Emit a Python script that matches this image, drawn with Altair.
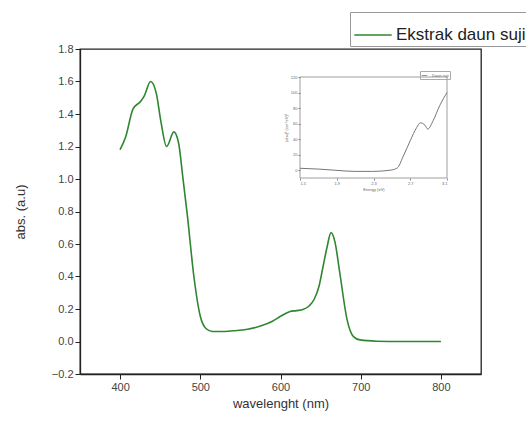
import altair as alt
import pandas as pd

# ---- main spectrum ----
wavelength = [400, 407, 416, 426, 430, 438, 445, 451, 458, 467, 473, 478, 484, 492, 500, 507,
              515, 530, 545, 559, 575, 590, 600, 612, 620, 628, 636, 642, 648, 653, 658, 663,
              668, 674, 683, 691, 699, 720, 750, 800]
absorbance = [1.18, 1.26, 1.43, 1.48, 1.51, 1.60, 1.53, 1.35, 1.20, 1.29, 1.22, 1.02, 0.77, 0.40,
              0.155, 0.08, 0.062, 0.062, 0.068, 0.075, 0.095, 0.125, 0.155, 0.185, 0.19, 0.197,
              0.22, 0.26, 0.34, 0.46, 0.58, 0.67, 0.61, 0.42, 0.135, 0.03, 0.01, 0.002, 0.0, 0.0]
series_name = "Ekstrak daun suji"

x_ticks = [400, 500, 600, 700, 800]
y_ticks = [-0.2, 0.0, 0.2, 0.4, 0.6, 0.8, 1.0, 1.2, 1.4, 1.6, 1.8]
x_domain = [350, 850]
y_domain = [-0.2, 1.8]

# ---- inset (Tauc-like plot) ----
energy = [1.5, 1.7, 1.88, 2.1, 2.29, 2.48, 2.56, 2.62, 2.70, 2.77, 2.81, 2.86, 2.89, 2.95, 3.02, 3.1]
tauc = [2.5, 1.5, 0.0, -1.5, -1.5, 0.0, 3, 17, 38, 55, 61, 58, 53, 64, 83, 100]
inset_name = "Daun suji"
inset_x_ticks = [1.5, 1.9, 2.3, 2.7, 3.1]
inset_y_ticks = [0, 20, 40, 60, 80, 100, 120]
inset_x_domain = [1.5, 3.1]
inset_y_domain = [-10, 120]

GREEN = "#2f862f"
FONT = "Liberation Sans"

main_df = pd.DataFrame({"wl": wavelength, "abs": absorbance, "series": series_name})
inset_df = pd.DataFrame({"e": energy, "t": tauc, "name": inset_name})
frame_df = pd.DataFrame({"x": [inset_x_domain[0]], "x2": [inset_x_domain[1]],
                         "y": [inset_y_domain[0]], "y2": [inset_y_domain[1]]})

main = alt.Chart(main_df).mark_line(strokeWidth=1.6, interpolate="monotone").encode(
    x=alt.X("wl:Q", scale=alt.Scale(domain=x_domain, nice=False, zero=False),
            axis=alt.Axis(values=x_ticks, title="wavelenght (nm)", titlePadding=5)),
    y=alt.Y("abs:Q", scale=alt.Scale(domain=y_domain, nice=False, zero=False),
            axis=alt.Axis(values=y_ticks, format=".1f", title="abs. (a.u)", titlePadding=24)),
    color=alt.Color("series:N", scale=alt.Scale(range=[GREEN]),
                    legend=alt.Legend(title=None, orient="none", legendX=270, legendY=-37,
                                      symbolType="stroke", symbolSize=1400, symbolStrokeWidth=1.6,
                                      labelFontSize=17, labelFont=FONT, labelColor="#222",
                                      strokeColor="#999", padding=3, labelLimit=400,
                                      labelOffset=3)),
)

inset_xs = alt.Scale(domain=inset_x_domain, range=[220, 367], nice=False, zero=False)
inset_ys = alt.Scale(domain=inset_y_domain, range=[129, 28], nice=False, zero=False)

small_axis = dict(labelFontSize=4, titleFontSize=4, tickSize=2, labelPadding=1,
                  domain=False, tickColor="#888", labelColor="#666", titleColor="#666",
                  titleFontWeight="normal", grid=False)

frame = alt.Chart(frame_df).mark_rect(fillOpacity=0, stroke="#777", strokeWidth=0.7).encode(
    x=alt.X("x:Q", scale=inset_xs,
            axis=alt.Axis(orient="bottom", offset=-196, values=inset_x_ticks, format=".1f",
                          title="Energy (eV)", titlePadding=2, **small_axis)),
    x2="x2:Q",
    y=alt.Y("y:Q", scale=inset_ys,
            axis=alt.Axis(orient="left", offset=-220, values=inset_y_ticks,
                          title="(αhν)² (cm⁻¹eV)²", titlePadding=2, **small_axis)),
    y2="y2:Q",
)

inset_line = alt.Chart(inset_df).mark_line(strokeWidth=0.9, color="#666",
                                           interpolate="monotone").encode(
    x=alt.X("e:Q", scale=inset_xs, title="Energy (eV)"),
    y=alt.Y("t:Q", scale=inset_ys, title="(αhν)² (cm⁻¹eV)²"),
    color=alt.Color("name:N", scale=alt.Scale(range=["#666"]),
                    legend=alt.Legend(title=None, orient="none", legendX=340, legendY=22,
                                      symbolType="stroke", symbolSize=30, symbolStrokeWidth=0.7,
                                      labelFontSize=4, labelColor="#666", strokeColor="#aaa",
                                      padding=1, rowPadding=0)),
)

inset = alt.layer(frame, inset_line)

chart = alt.layer(main, inset).resolve_scale(
    x="independent", y="independent", color="independent"
).properties(
    width=401, height=325,
    autosize=alt.AutoSizeParams(type="none"),
    padding={"left": 80, "top": 49, "right": 45, "bottom": 51},
).configure(
    font=FONT,
).configure_view(
    stroke="#222", strokeWidth=1.3,
).configure_axis(
    grid=False, domainColor="#222", domainWidth=1.3, tickColor="#222", tickSize=5,
    labelFontSize=11, labelColor="#444", labelFont=FONT,
    titleFontSize=13, titleFontWeight="normal", titleColor="#333", titleFont=FONT,
)

chart.save("out.html", embed_options={"renderer": "svg", "actions": False})
